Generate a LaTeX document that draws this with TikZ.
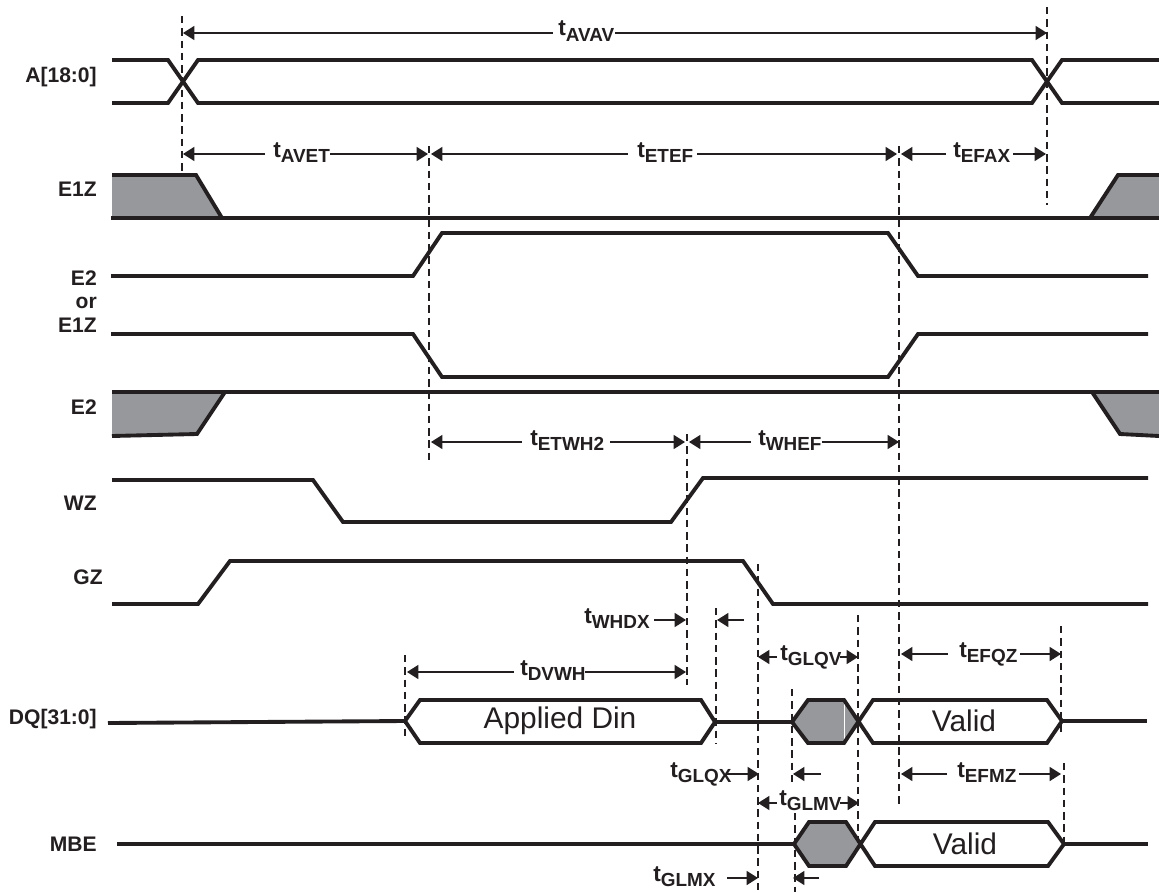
\documentclass[tikz,border=0pt]{standalone}
\usepackage{fontspec}
\setmainfont{Liberation Sans}
\usetikzlibrary{arrows.meta}
\definecolor{ink}{HTML}{231F20}
\definecolor{shade}{HTML}{97989B}
\newcommand{\tname}[1]{{\fontsize{17pt}{18pt}\selectfont t}\lower4.4pt\hbox{\fontsize{14.2pt}{15pt}\selectfont #1}}
\tikzset{
  signal/.style={draw=ink,line width=2.9pt,line join=miter,line cap=butt},
  shaded/.style={fill=shade,draw=none},
  guide/.style={draw=ink,line width=1.25pt,dash pattern=on 5.6pt off 3.6pt},
  dimto/.style={draw=ink,line width=1pt,-{Triangle[length=8.5pt,width=10.5pt]}},
  siglabel/.style={anchor=east,inner sep=0pt,text=ink,font=\fontsize{15.8pt}{16pt}\selectfont\bfseries},
  timing/.style={anchor=base west,inner sep=0pt,text=ink,font=\bfseries},
  datatext/.style={inner sep=0pt,text=ink,font=\fontsize{22.4pt}{24pt}\selectfont},
}
\begin{document}
\begin{tikzpicture}[x=0.75pt,y=-0.75pt]
\useasboundingbox[fill=white] (0,0) rectangle (1159,892);
% shaded regions
\fill[shaded] (112,175) -- (196,175) -- (222,218) -- (112,218) -- cycle;
\fill[shaded] (1159,175) -- (1118,175) -- (1090,218) -- (1159,218) -- cycle;
\fill[shaded] (112,392) -- (225,392) -- (197,434) -- (112,436) -- cycle;
\fill[shaded] (1159,392) -- (1092,392) -- (1120,434) -- (1159,436) -- cycle;
\fill[shaded] (792,722) -- (808,700) -- (844,700) -- (858,722) -- (844,743) -- (808,743) -- cycle;
\fill[shaded] (794,844) -- (809,822) -- (846,822) -- (860,844) -- (846,866) -- (809,866) -- cycle;
\draw[white,line width=0.5pt] (844,702) -- (844,741);
% signals
\draw[signal] (112,60) -- (168,60) -- (198,103) -- (1032,103) -- (1062,60) -- (1159,60);
\draw[signal] (112,103) -- (168,103) -- (198,60) -- (1032,60) -- (1062,103) -- (1159,103);
\draw[signal] (112,175) -- (196,175) -- (222,218) -- (1090,218) -- (1118,175) -- (1159,175);
\draw[signal] (111,218) -- (222,218);
\draw[signal] (1090,218) -- (1159,218);
\draw[signal] (111,276) -- (413,276) -- (442,233) -- (888,233) -- (918,276) -- (1148,276);
\draw[signal] (111,334) -- (413,334) -- (442,377) -- (888,377) -- (918,334) -- (1148,334);
\draw[signal] (112,392) -- (1159,392);
\draw[signal] (225,392) -- (197,434) -- (112,436);
\draw[signal] (1092,392) -- (1120,434) -- (1159,436);
\draw[signal] (112,480) -- (313,480) -- (343,522) -- (671,522) -- (703,478) -- (1148,478);
\draw[signal] (112,604) -- (198,604) -- (230,561) -- (743,561) -- (773,604) -- (1148,604);
\draw[signal] (108,723) -- (405,721) -- (420,700) -- (701,700) -- (715,722) -- (701,743) -- (420,743) -- (405,721);
\draw[signal] (715,722) -- (792,722) -- (808,700) -- (844,700) -- (873,743) -- (1047,743) -- (1062,721) -- (1047,700) -- (873,700) -- (844,743) -- (808,743) -- (792,722);
\draw[signal] (1062,721) -- (1147,721);
\draw[signal] (117,844) -- (794,844) -- (809,822) -- (846,822) -- (875,866) -- (1048,866) -- (1064,844) -- (1048,822) -- (875,822) -- (846,866) -- (809,866) -- (794,844);
\draw[signal] (1064,844) -- (1148,844);
% guides
\draw[guide] (182,16) -- (182,175);
\draw[guide] (1047,7) -- (1047,205);
\draw[guide] (429,146) -- (429,462);
\draw[guide] (899,146) -- (899,808);
\draw[guide] (687,434) -- (687,685);
\draw[guide] (758,564) -- (758,892);
\draw[guide] (716,608) -- (716,743);
\draw[guide] (405,655) -- (405,739);
\draw[guide] (792,689) -- (792,782);
\draw[guide] (858,615) -- (858,845);
\draw[guide] (1061,626) -- (1061,735);
\draw[guide] (1064,763) -- (1064,845);
\draw[guide] (795,813) -- (795,892);
% signal names
\node[siglabel] (nA) at (97,77) {A[18:0]};
\node[siglabel] (nEa) at (97,189) {E1Z};
\node[siglabel] (nEb) at (97,278) {E2};
\node[siglabel] (nOr) at (97,303) {or};
\node[siglabel] (nEc) at (97,325) {E1Z};
\node[siglabel] (nEd) at (97,407) {E2};
\node[siglabel] (nW) at (97,503) {WZ};
\node[siglabel] (nG) at (103,577) {GZ};
\node[siglabel] (nD) at (97,719) {DQ[31:0]};
\node[siglabel] (nM) at (97,844) {MBE};
% data text
\node[datatext] (din) at (560,721) {Applied Din};
\node[datatext] (v1) at (964,721) {Valid};
\node[datatext] (v2) at (965,844) {Valid};
% timing labels
\node[timing] (avav) at (558,36) {\tname{AVAV}};
\node[timing] (avet) at (273,157) {\tname{AVET}};
\node[timing] (etef) at (637,157) {\tname{ETEF}};
\node[timing] (efax) at (953,157) {\tname{EFAX}};
\node[timing] (etwh) at (530,445) {\tname{ETWH2}};
\node[timing] (whef) at (758,445) {\tname{WHEF}};
\node[timing] (whdx) at (584,623) {\tname{WHDX}};
\node[timing] (dvwh) at (520,675) {\tname{DVWH}};
\node[timing] (glqv) at (780,660) {\tname{GLQV}};
\node[timing] (efqz) at (959,657) {\tname{EFQZ}};
\node[timing] (glqx) at (670,777) {\tname{GLQX}};
\node[timing] (efmz) at (957,777) {\tname{EFMZ}};
\node[timing] (glmv) at (779,805) {\tname{GLMV}};
\node[timing] (glmx) at (653,881) {\tname{GLMX}};
% dimension arrows
\draw[dimto] (553,33) -- (183,33);
\draw[dimto] (615,33) -- (1047,33);
\draw[dimto] (265,154) -- (183,154);
\draw[dimto] (330,154) -- (428,154);
\draw[dimto] (628,154) -- (431,154);
\draw[dimto] (697,154) -- (897,154);
\draw[dimto] (946,154) -- (901,154);
\draw[dimto] (1013,154) -- (1046,154);
\draw[dimto] (522,442) -- (431,442);
\draw[dimto] (610,442) -- (685,442);
\draw[dimto] (751,442) -- (689,442);
\draw[dimto] (822,442) -- (899,442);
\draw[dimto] (654,620) -- (686,620);
\draw[dimto] (744,620) -- (717,620);
\draw[dimto] (514,672) -- (407,672);
\draw[dimto] (585,672) -- (686,672);
\draw[dimto] (777,657) -- (758,657);
\draw[dimto] (840,657) -- (858,657);
\draw[dimto] (948,654) -- (901,654);
\draw[dimto] (1020,654) -- (1061,654);
\draw[dimto] (727,774) -- (759,774);
\draw[dimto] (821,774) -- (793,774);
\draw[dimto] (947,774) -- (901,774);
\draw[dimto] (1019,774) -- (1061,774);
\draw[dimto] (777,803) -- (758,803);
\draw[dimto] (840,803) -- (859,803);
\draw[dimto] (727,878) -- (758,878);
\draw[dimto] (819,878) -- (793,878);
\end{tikzpicture}
\end{document}
